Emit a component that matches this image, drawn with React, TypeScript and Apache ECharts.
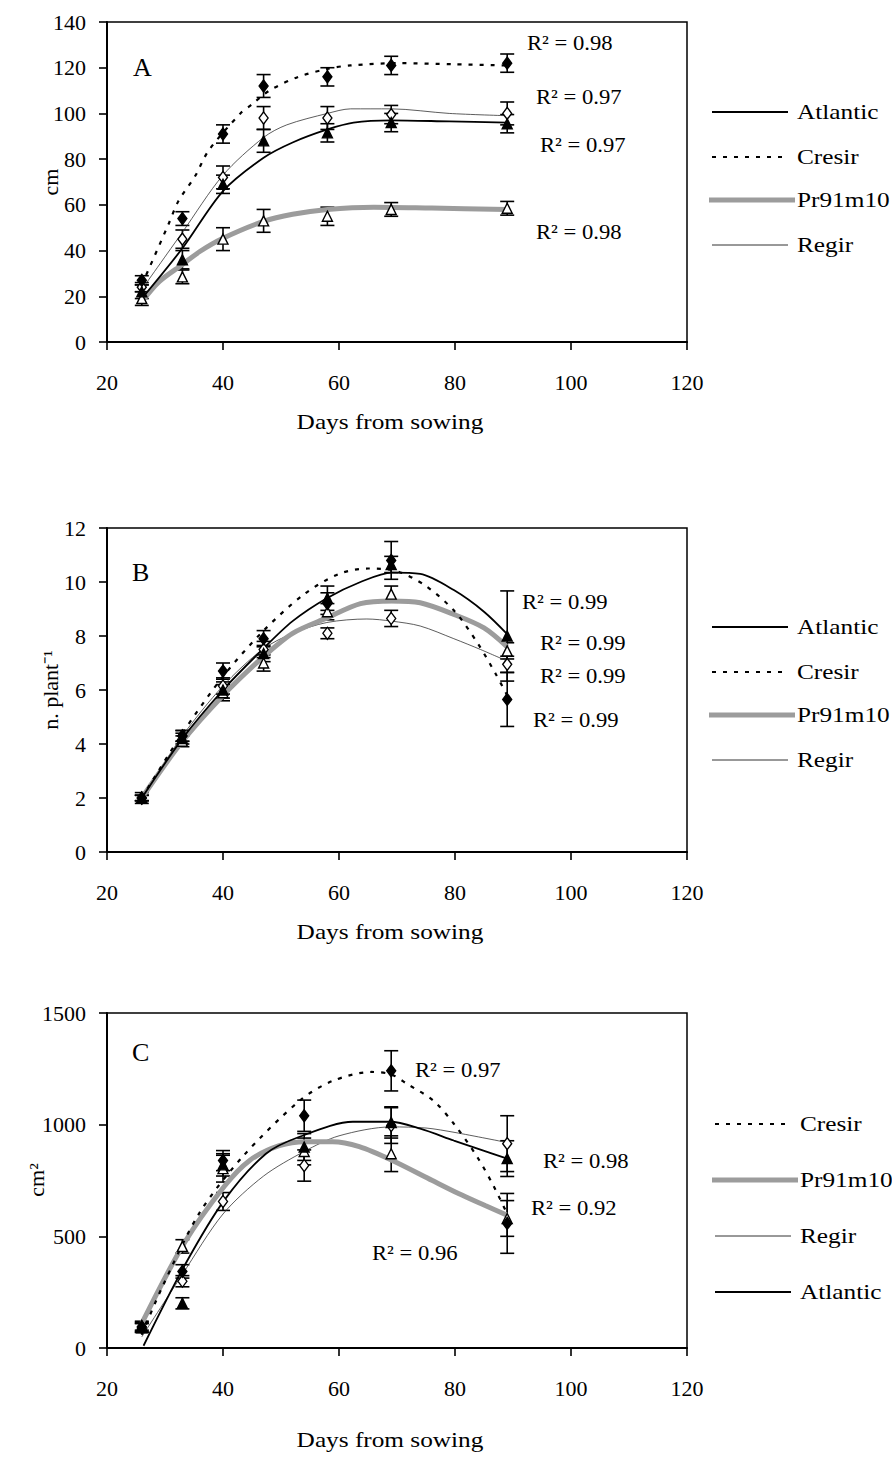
import React, { useEffect, useRef } from "react";
import * as echarts from "echarts";

const FONT = "'Liberation Serif', 'Times New Roman', Times, serif";

// ---------- axes ----------
const xRange = { min: 20, max: 120, interval: 20 };
const yRangeA = { min: 0, max: 140, interval: 20 };
const yRangeB = { min: 0, max: 12, interval: 2 };
const yRangeC = { min: 0, max: 1500, interval: 500 };
const xTitle = "Days from sowing";
const yTitles = ["cm", "n. plant\u207B\u00B9", "cm\u00B2"];
const panelLetters = ["A", "B", "C"];

// ---------- Panel A (plant height, cm) ----------
const daysA = [26, 33, 40, 47, 58, 69, 89];
const aAtlantic = [22, 36, 69, 88, 91.5, 96, 95.5];
const aAtlanticErr = [3, 4, 4, 5, 4, 4, 4];
const aCresir = [27, 54, 91, 112, 116, 121, 122];
const aCresirErr = [2, 3, 4, 5, 4, 4, 4];
const aPr = [19, 28.5, 45, 53, 55, 58, 58.5];
const aPrErr = [3, 3, 5, 5, 4, 3, 3];
const aRegir = [24, 45, 72, 98, 98, 99.5, 100];
const aRegirErr = [2, 4, 5, 5, 5, 4, 5];

const fitXA_Atlantic = [26, 33, 40, 47, 52, 58, 62.5, 69, 79, 89];
const fitYA_Atlantic = [19, 41, 66, 80.6, 87.3, 93, 96, 97, 96.5, 96];
const fitXA_Cresir = [26, 30.6, 32.3, 35.2, 37.5, 43, 45, 48, 53, 58, 62, 70, 80, 89];
const fitYA_Cresir = [25, 51.5, 61.6, 72.6, 83.7, 100, 104, 110, 116, 119.5, 121, 122, 121.5, 121];
const fitXA_Pr = [26, 29, 33, 36, 40, 47, 52, 58, 66, 76, 89];
const fitYA_Pr = [17.6, 26.4, 33.9, 39.6, 45.4, 52.8, 55.9, 58, 59, 58.6, 58];
const fitXA_Regir = [26, 33, 40, 47, 51, 58, 62, 69, 79, 89];
const fitYA_Regir = [23, 48, 73, 89.5, 95, 100, 102, 102, 100, 99];
const r2A = ["0.98", "0.97", "0.97", "0.98"];

// ---------- Panel B (n. plant-1) ----------
const daysB = [26, 33, 40, 47, 58, 69, 89];
const bAtlantic = [2.0, 4.2, 6.0, 7.35, 9.4, 10.65, 8.0];
const bAtlanticErr = [0.1, 0.2, 0.3, 0.3, 0.45, 0.3, 1.67];
const bCresir = [2.0, 4.3, 6.7, 7.9, 9.2, 10.8, 5.65];
const bCresirErr = [0.1, 0.2, 0.3, 0.3, 0.4, 0.7, 1.0];
const bPr = [2.0, 4.1, 5.9, 7.0, 8.9, 9.55, 7.45];
const bPrErr = [0.1, 0.2, 0.3, 0.3, 0.3, 0.3, 0.3];
const bRegir = [2.0, 4.3, 6.15, 7.5, 8.1, 8.65, 6.95];
const bRegirErr = [0.2, 0.2, 0.3, 0.3, 0.2, 0.3, 0.3];

const fitXB_Atlantic = [26, 33, 40, 46.8, 52, 57.9, 63.7, 69.1, 74, 79.8, 85, 89];
const fitYB_Atlantic = [2.0, 4.2, 6.0, 7.5, 8.55, 9.4, 10.0, 10.35, 10.3, 9.7, 8.9, 8.07];
const fitXB_Cresir = [26, 33, 40, 47, 54, 60, 65, 70, 75, 80, 84, 87, 89];
const fitYB_Cresir = [2.0, 4.4, 6.5, 8.2, 9.55, 10.3, 10.5, 10.4, 9.85, 8.9, 7.7, 6.6, 5.8];
const fitXB_Pr = [26, 33, 40, 46.8, 52, 57.9, 63.7, 69.1, 74, 79.8, 85, 89];
const fitYB_Pr = [2.0, 4.1, 5.8, 7.2, 8.1, 8.67, 9.2, 9.3, 9.23, 8.8, 8.3, 7.6];
const fitXB_Regir = [26, 33, 40, 46.8, 52, 57.9, 64.8, 69.1, 74, 79.8, 84.4, 89];
const fitYB_Regir = [2.0, 4.3, 6.15, 7.5, 8.1, 8.5, 8.63, 8.55, 8.37, 7.9, 7.5, 7.07];
const r2B = ["0.99", "0.99", "0.99", "0.99"];

// ---------- Panel C (leaf area, cm2) ----------
const daysC = [26, 33, 40, 54, 69, 89];
const cAtlantic = [90, 200, 820, 900, 1010, 848];
const cAtlanticErr = [20, 25, 50, 60, 70, 80];
const cCresir = [95, 343, 839, 1040, 1241, 558];
const cCresirErr = [20, 30, 45, 70, 90, 134];
const cPr = [100, 455, 803, 880, 870, 580];
const cPrErr = [20, 30, 60, 60, 80, 80];
const cRegir = [90, 299, 656, 817, 996, 915];
const cRegirErr = [20, 25, 40, 70, 80, 125];

const fitXC_Atlantic = [26.3, 33.3, 40.2, 47.4, 53.2, 62.4, 68.8, 74, 79.8, 84.9, 89];
const fitYC_Atlantic = [10, 366, 661, 870, 946, 1013, 1013, 982, 929, 884, 848];
const fitXC_Cresir = [26, 29.6, 35.9, 43.4, 53.2, 58.9, 65.6, 69, 71.7, 76.3, 79.8, 83.8, 86.7, 89];
const fitYC_Cresir = [60, 277, 603, 857, 1107, 1196, 1236, 1225, 1183, 1107, 1004, 857, 723, 600];
const fitXC_Pr = [26, 33.3, 40.2, 44.6, 49.7, 54.3, 58.9, 63.5, 69.2, 76.1, 80.6, 85.2, 89];
const fitYC_Pr = [110, 469, 723, 840, 906, 924, 924, 902, 840, 750, 692, 638, 594];
const fitXC_Regir = [26, 33, 40, 47, 54, 60, 69, 75, 80, 89];
const fitYC_Regir = [50, 330, 600, 770, 880, 950, 990, 985, 965, 920];
const r2C = ["0.97", "0.98", "0.92", "0.96"];

// legend orders
const legendAB = ["Atlantic", "Cresir", "Pr91m10", "Regir"];
const legendC = ["Cresir", "Pr91m10", "Regir", "Atlantic"];

// ---------- styling ----------
const STYLE: Record<string, any> = {
  Atlantic: { color: "#000", width: 1.8, dash: "solid", symbol: "triangle", fill: "#000", size: [10, 10] },
  Cresir: { color: "#000", width: 2.2, dash: [4, 7], symbol: "diamond", fill: "#000", size: [9, 12] },
  Pr91m10: { color: "#9c9c9c", width: 5, dash: "solid", symbol: "triangle", fill: "#fff", size: [10, 10] },
  Regir: { color: "#333", width: 0.8, dash: "solid", symbol: "diamond", fill: "#fff", size: [9, 12] },
};

const GRIDS = [
  { left: 107, top: 22, width: 580, height: 320 },
  { left: 107, top: 528, width: 580, height: 324 },
  { left: 107, top: 1013, width: 580, height: 335 },
];

function zip(xs: number[], ys: number[]) {
  return xs.map((x, i) => [x, ys[i]]);
}

function varietySeries(gi: number, name: string, days: number[], vals: number[], errs: number[], fx: number[], fy: number[]) {
  const s = STYLE[name];
  const out: any[] = [];
  out.push({
    type: "custom",
    name: name + " error",
    xAxisIndex: gi,
    yAxisIndex: gi,
    z: 3,
    silent: true,
    data: days.map((d, i) => [d, vals[i] - errs[i], vals[i] + errs[i]]),
    encode: { x: 0, y: [1, 2] },
    renderItem: (_p: any, api: any) => {
      const x = api.value(0);
      const lo = api.coord([x, api.value(1)]);
      const hi = api.coord([x, api.value(2)]);
      const w = 7;
      const st = { stroke: "#000", lineWidth: 1.6 };
      return {
        type: "group",
        children: [
          { type: "line", shape: { x1: lo[0], y1: lo[1], x2: hi[0], y2: hi[1] }, style: st },
          { type: "line", shape: { x1: lo[0] - w, y1: lo[1], x2: lo[0] + w, y2: lo[1] }, style: st },
          { type: "line", shape: { x1: hi[0] - w, y1: hi[1], x2: hi[0] + w, y2: hi[1] }, style: st },
        ],
      };
    },
  });
  out.push({
    type: "line",
    name,
    xAxisIndex: gi,
    yAxisIndex: gi,
    z: 4,
    smooth: 0.3,
    showSymbol: false,
    silent: true,
    data: zip(fx, fy),
    lineStyle: { color: s.color, width: s.width, type: s.dash },
  });
  out.push({
    type: "scatter",
    name: name + " obs",
    xAxisIndex: gi,
    yAxisIndex: gi,
    z: 5,
    symbol: s.symbol,
    symbolSize: s.size,
    silent: true,
    data: zip(days, vals),
    itemStyle: { color: s.fill, borderColor: "#000", borderWidth: 1.4, opacity: 1 },
  });
  return out;
}

function txt(x: number, y: number, text: string, opts: any = {}) {
  return {
    type: "text",
    x,
    y,
    rotation: opts.rotation || 0,
    scaleX: opts.scaleX || 1,
    z: 20,
    silent: true,
    style: {
      text,
      fontSize: opts.fontSize || 22,
      fontFamily: FONT,
      fill: "#000",
      align: opts.align || "left",
      verticalAlign: "middle",
    },
  };
}

function legendGraphics(order: string[], ys: number[], textX: number) {
  const els: any[] = [];
  order.forEach((name, i) => {
    const s = STYLE[name];
    const y = ys[i];
    const x1 = name === "Pr91m10" ? textX - 88 : textX - 85;
    const x2 = name === "Pr91m10" ? textX - 2 : textX - 9;
    els.push({
      type: "line",
      z: 20,
      silent: true,
      shape: { x1, y1: y, x2, y2: y },
      style: {
        stroke: s.color,
        lineWidth: name === "Regir" ? 1 : s.width,
        lineDash: Array.isArray(s.dash) ? s.dash : null,
      },
    });
    els.push(txt(textX, y, name, { scaleX: 1.15 }));
  });
  return els;
}

function r2Graphics(labels: string[], pos: number[][]) {
  return labels.map((v, i) => txt(pos[i][0], pos[i][1], "R\u00B2 = " + v, { scaleX: 1.03 }));
}

export default function App() {
  const ref = useRef<HTMLDivElement>(null);

  useEffect(() => {
    if (!ref.current) return;
    const chart = echarts.init(ref.current, undefined, { renderer: "svg" });

    const yRanges = [yRangeA, yRangeB, yRangeC];

    const xAxis = GRIDS.map((_, i) => ({
      type: "value",
      gridIndex: i,
      ...xRange,
      axisLine: { show: true, onZero: false, lineStyle: { color: "#000", width: 2 } },
      axisTick: { show: true, inside: false, length: 8, lineStyle: { color: "#000", width: 1.6 } },
      axisLabel: { fontSize: 22, fontFamily: FONT, color: "#000", margin: 29 },
      splitLine: { show: false },
    }));
    const yAxis = GRIDS.map((_, i) => ({
      type: "value",
      gridIndex: i,
      ...yRanges[i],
      axisLine: { show: true, onZero: false, lineStyle: { color: "#000", width: 2 } },
      axisTick: { show: true, inside: false, length: 8, lineStyle: { color: "#000", width: 1.6 } },
      axisLabel: {
        fontSize: 22,
        fontFamily: FONT,
        color: "#000",
        margin: 21,
        formatter: (v: number) => String(v),
      },
      splitLine: { show: false },
    }));

    const series: any[] = [
      ...varietySeries(0, "Regir", daysA, aRegir, aRegirErr, fitXA_Regir, fitYA_Regir),
      ...varietySeries(0, "Pr91m10", daysA, aPr, aPrErr, fitXA_Pr, fitYA_Pr),
      ...varietySeries(0, "Atlantic", daysA, aAtlantic, aAtlanticErr, fitXA_Atlantic, fitYA_Atlantic),
      ...varietySeries(0, "Cresir", daysA, aCresir, aCresirErr, fitXA_Cresir, fitYA_Cresir),

      ...varietySeries(1, "Regir", daysB, bRegir, bRegirErr, fitXB_Regir, fitYB_Regir),
      ...varietySeries(1, "Pr91m10", daysB, bPr, bPrErr, fitXB_Pr, fitYB_Pr),
      ...varietySeries(1, "Atlantic", daysB, bAtlantic, bAtlanticErr, fitXB_Atlantic, fitYB_Atlantic),
      ...varietySeries(1, "Cresir", daysB, bCresir, bCresirErr, fitXB_Cresir, fitYB_Cresir),

      ...varietySeries(2, "Regir", daysC, cRegir, cRegirErr, fitXC_Regir, fitYC_Regir),
      ...varietySeries(2, "Pr91m10", daysC, cPr, cPrErr, fitXC_Pr, fitYC_Pr),
      ...varietySeries(2, "Atlantic", daysC, cAtlantic, cAtlanticErr, fitXC_Atlantic, fitYC_Atlantic),
      ...varietySeries(2, "Cresir", daysC, cCresir, cCresirErr, fitXC_Cresir, fitYC_Cresir),
    ];

    const graphic: any[] = [
      // panel letters
      txt(133, 67, panelLetters[0], { fontSize: 26 }),
      txt(132, 572, panelLetters[1], { fontSize: 26 }),
      txt(132, 1052, panelLetters[2], { fontSize: 26 }),
      // y titles
      txt(50, 182, yTitles[0], { rotation: Math.PI / 2, align: "center" }),
      txt(50, 690, yTitles[1], { rotation: Math.PI / 2, align: "center" }),
      txt(36, 1180, yTitles[2], { rotation: Math.PI / 2, align: "center" }),
      // x titles
      txt(390, 422, xTitle, { align: "center", scaleX: 1.15 }),
      txt(390, 932, xTitle, { align: "center", scaleX: 1.15 }),
      txt(390, 1440, xTitle, { align: "center", scaleX: 1.15 }),
      // R2 labels
      ...r2Graphics(r2A, [[527, 43], [536, 97], [540, 145], [536, 232]]),
      ...r2Graphics(r2B, [[522, 602], [540, 643], [540, 676], [533, 720]]),
      ...r2Graphics(r2C, [[415, 1070], [543, 1161], [531, 1208], [372, 1253]]),
      // legends
      ...legendGraphics(legendAB, [112, 157, 200, 245], 797),
      ...legendGraphics(legendAB, [627, 672, 715, 760], 797),
      ...legendGraphics(legendC, [1124, 1180, 1236, 1292], 800),
    ];

    chart.setOption({
      animation: false,
      backgroundColor: "#fff",
      textStyle: { fontFamily: FONT },
      grid: GRIDS.map((g) => ({ ...g, show: true, borderColor: "#000", borderWidth: 1.5, backgroundColor: "transparent" })),
      xAxis,
      yAxis,
      series,
      graphic,
    });

    return () => chart.dispose();
  }, []);

  return (
    <div
      ref={ref}
      style={{ position: "absolute", left: 0, top: 0, width: 892, height: 1474, background: "#fff" }}
    />
  );
}
